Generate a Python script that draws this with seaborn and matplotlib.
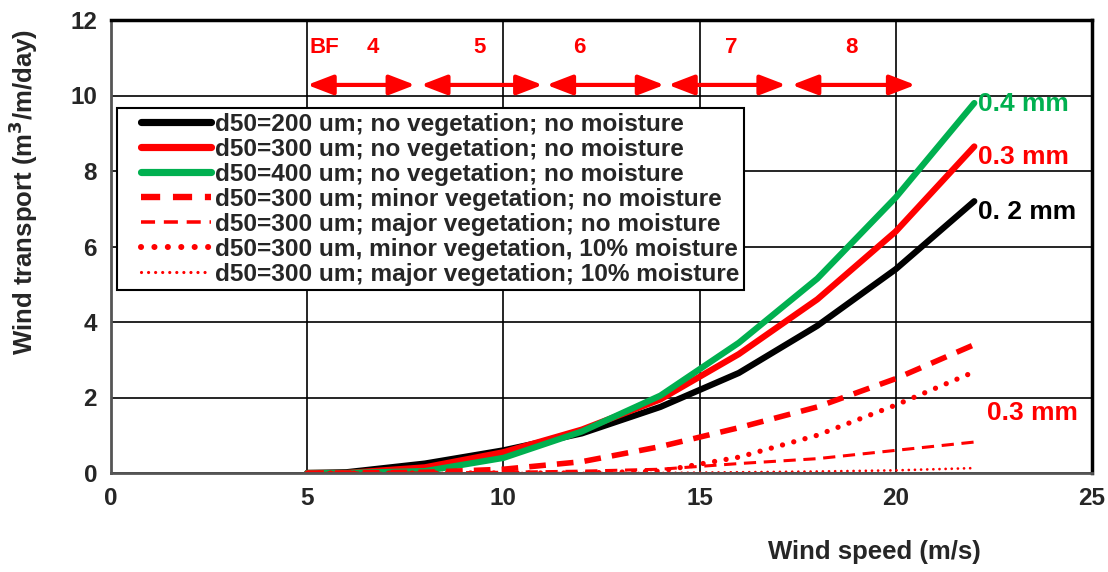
import matplotlib
matplotlib.use("Agg")
import matplotlib.pyplot as plt
from matplotlib.legend_handler import HandlerLine2D
import seaborn as sns
import pandas as pd

sns.set_theme(style="white")
plt.rcParams['font.family'] = ['Liberation Sans', 'DejaVu Sans']
plt.rcParams['font.weight'] = 'bold'

wind_speed = [5, 6, 8, 10, 12, 14, 16, 18, 20, 22]
d200_noveg = [0, 0.02, 0.25, 0.6, 1.05, 1.75, 2.65, 3.9, 5.4, 7.2]
d300_noveg = [0, 0.0, 0.15, 0.55, 1.15, 1.95, 3.15, 4.6, 6.4, 8.65]
d400_noveg = [0, 0.0, 0.05, 0.4, 1.1, 2.05, 3.45, 5.15, 7.3, 9.8]
d300_minor = [0, 0.0, 0.02, 0.1, 0.3, 0.7, 1.2, 1.75, 2.5, 3.4]
d300_major = [0, 0.0, 0.0, 0.02, 0.05, 0.1, 0.25, 0.38, 0.6, 0.82]
d300_minor_moist = [0, 0.0, 0.0, 0.0, 0.0, 0.05, 0.42, 1.0, 1.8, 2.68]
d300_major_moist = [0, 0.0, 0.0, 0.0, 0.0, 0.0, 0.02, 0.04, 0.07, 0.13]

labels = [
    "d50=200 um; no vegetation; no moisture",
    "d50=300 um; no vegetation; no moisture",
    "d50=400 um; no vegetation; no moisture",
    "d50=300 um; minor vegetation; no moisture",
    "d50=300 um; major vegetation; no moisture",
    "d50=300 um, minor vegetation, 10% moisture",
    "d50=300 um; major vegetation; 10% moisture",
]
series = [d200_noveg, d300_noveg, d400_noveg, d300_minor, d300_major,
          d300_minor_moist, d300_major_moist]

bf_labels = ["BF", "4", "5", "6", "7", "8"]
bf_label_x = [5.05, 6.68, 9.38, 11.93, 15.8, 18.88]
bf_ranges = [(5.0, 7.75), (7.9, 11.0), (11.1, 14.1), (14.2, 17.2), (17.35, 20.5)]

styles = [
    dict(color="black", lw=4.5, ls="-"),
    dict(color="#ff0000", lw=4.5, ls="-"),
    dict(color="#00b050", lw=4.5, ls="-"),
    dict(color="#ff0000", lw=4, ls=(0, (3, 2))),
    dict(color="#ff0000", lw=2.2, ls=(0, (4, 2.5))),
    dict(color="#ff0000", lw=3.8, ls=(0, (0.01, 2.2)), dash_capstyle="round"),
    dict(color="#ff0000", lw=2.0, ls=(0, (0.01, 2.2)), dash_capstyle="round"),
]


class ShiftHandler(HandlerLine2D):
    def __init__(self, shift_px, **kw):
        super().__init__(**kw)
        self.shift_px = shift_px

    def create_artists(self, legend, orig_handle, xdescent, ydescent, width,
                       height, fontsize, trans):
        s = self.shift_px
        return super().create_artists(legend, orig_handle, xdescent - s, ydescent,
                                      width - s, height, fontsize, trans)


fig = plt.figure(figsize=(11.08, 5.72), dpi=100)
ax = fig.add_axes([111/1108, 1-473/572, 981/1108, 453/572])

for lab, vals, st in zip(labels, series, styles):
    df = pd.DataFrame({"x": wind_speed, "y": vals})
    sns.lineplot(data=df, x="x", y="y", ax=ax, label=lab,
                 color=st["color"], lw=st["lw"], linestyle=st["ls"])
    l = ax.lines[-1]
    if "dash_capstyle" in st:
        l.set_dash_capstyle("round")

ax.set_xlim(0, 25)
ax.set_ylim(0, 12)
ax.set_xticks([0, 5, 10, 15, 20, 25])
ax.set_yticks([0, 2, 4, 6, 8, 10, 12])
ax.tick_params(axis="both", labelsize=17.5, length=0, pad=10)
for t in ax.get_xticklabels() + ax.get_yticklabels():
    t.set_fontweight("bold")
ax.grid(True, color="black", lw=1.2)
ax.set_axisbelow(True)
for s in ["top", "right"]:
    ax.spines[s].set_color("black")
    ax.spines[s].set_linewidth(2.5)
for s in ["left", "bottom"]:
    ax.spines[s].set_color("#555555")
    ax.spines[s].set_linewidth(2)

ax.set_xlabel("")
ax.set_ylabel("")
fig.text(874/1108, 1-552/572, "Wind speed (m/s)", fontsize=18.5, fontweight="bold",
         ha="center", va="center")
fig.text(23/1108, 1-192/572, "Wind transport (m$^\\mathbf{3}$/m/day)", fontsize=18.5,
         fontweight="bold", rotation=90, ha="center", va="center")

handles, labs = ax.get_legend_handles_labels()
hmap = {h: ShiftHandler(14) for h in handles}
leg = ax.legend(handles, labs, loc="upper left", bbox_to_anchor=(0.006, 0.806),
                fontsize=17.6, frameon=True, fancybox=False, edgecolor="black",
                framealpha=1, handlelength=3.65, handletextpad=0.15,
                labelspacing=0.08, borderpad=0.2, borderaxespad=0,
                handler_map=hmap)
leg.get_frame().set_linewidth(1.5)
for t in leg.get_texts():
    t.set_fontweight("bold")
for lh in leg.get_lines():
    lh.set_linewidth(lh.get_linewidth() * 1.15)

for lab, xv in zip(bf_labels, bf_label_x):
    ax.text(xv, 11.28, lab, color="#ff0000", fontsize=16, fontweight="bold",
            ha="left" if lab == "BF" else "center", va="center")
for x0, x1 in bf_ranges:
    ax.annotate("", xy=(x1, 10.28), xytext=(x0, 10.28),
                arrowprops=dict(arrowstyle="<|-|>,head_length=1.3,head_width=0.5",
                                color="#ff0000", lw=3, shrinkA=0, shrinkB=0))

ax.text(22.1, 9.77, "0.4 mm", color="#00b050", fontsize=19, fontweight="bold",
        ha="left", va="center")
ax.text(22.1, 8.37, "0.3 mm", color="#ff0000", fontsize=19, fontweight="bold",
        ha="left", va="center")
ax.text(22.1, 6.91, "0. 2 mm", color="black", fontsize=19, fontweight="bold",
        ha="left", va="center")
ax.text(22.32, 1.59, "0.3 mm", color="#ff0000", fontsize=19, fontweight="bold",
        ha="left", va="center")

fig.savefig("out.png", dpi=100)
